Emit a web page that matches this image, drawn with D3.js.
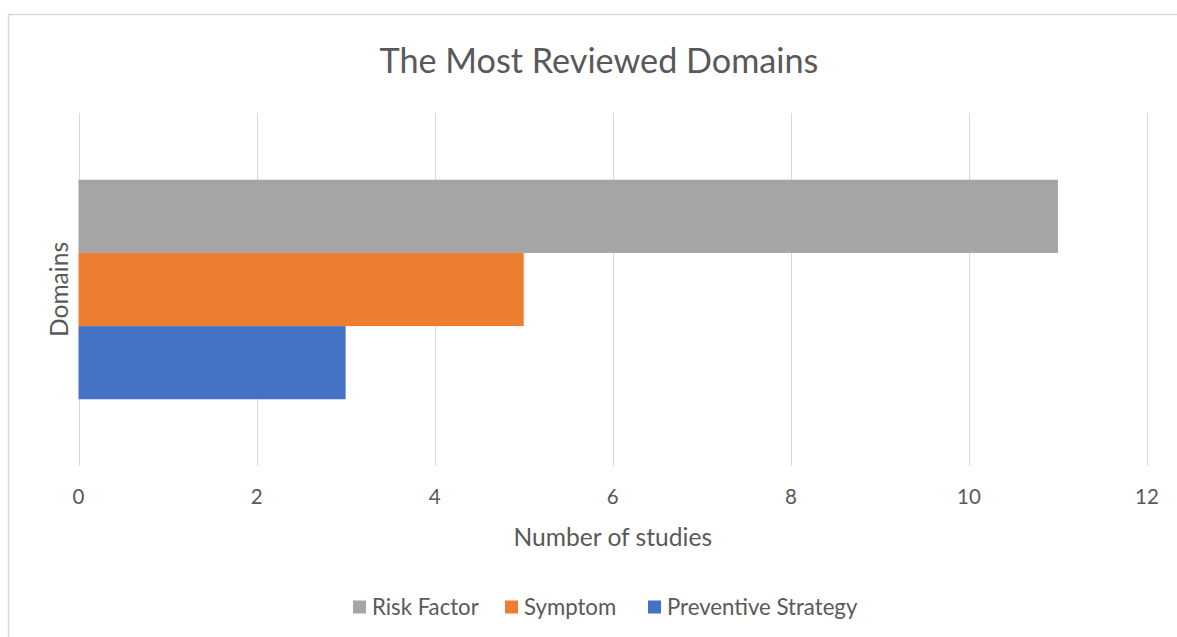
<!DOCTYPE html>
<meta charset="utf-8">

<style>
  body { margin: 0; background: #fff; }
  text { font-family: Lato, "Open Sans", sans-serif; fill: #595959; }
</style>

<svg class="chart"></svg>

<script src="https://d3js.org/d3.v7.min.js"></script>
<script>

  var seriesNames  = ["Risk Factor", "Symptom", "Preventive Strategy"];
  var seriesValues = [11, 5, 3];
  var seriesColors = ["#a5a5a5", "#ed7d31", "#4472c4"];
  var categories   = ["Domains"];
  var xTicks       = [0, 2, 4, 6, 8, 10, 12];

  var width  = 1177;
  var height = 637;

  var plot = { left: 78.5, right: 1147, top: 113, bottom: 466 };

  var chart = d3.select(".chart")
      .attr("width", width)
      .attr("height", height);

  // chart frame (runs off the picture on right and bottom)
  chart.append("rect")
      .attr("x", 8.5)
      .attr("y", 14.5)
      .attr("width", 1200)
      .attr("height", 700)
      .attr("fill", "#fff")
      .attr("stroke", "#d9d9d9")
      .attr("stroke-width", 1.5);

  var x = d3.scaleLinear()
      .domain([0, 12])
      .range([plot.left, plot.right]);

  var y0 = d3.scaleBand()
      .domain(categories)
      .range([plot.top, plot.bottom])
      .paddingOuter(0.304);

  var y1 = d3.scaleBand()
      .domain(seriesNames)
      .range([0, y0.bandwidth()]);

  // gridlines
  chart.append("g")
    .selectAll("line")
    .data(xTicks)
    .enter().append("line")
        .attr("x1", function(d) { return Math.round(x(d)) + 0.5; })
        .attr("x2", function(d) { return Math.round(x(d)) + 0.5; })
        .attr("y1", plot.top)
        .attr("y2", plot.bottom)
        .attr("stroke", "#d9d9d9")
        .attr("stroke-width", 1);

  // bars
  var rows = seriesNames.map(function(name, i) {
    return { name: name, value: seriesValues[i], color: seriesColors[i], cat: categories[0] };
  });

  chart.append("g")
    .selectAll("rect")
    .data(rows)
    .enter().append("rect")
        .attr("x", x(0))
        .attr("y", function(d) { return y0(d.cat) + y1(d.name); })
        .attr("width", function(d) { return x(d.value) - x(0); })
        .attr("height", y1.bandwidth())
        .attr("fill", function(d) { return d.color; });

  // x tick labels
  chart.append("g")
    .selectAll("text")
    .data(xTicks)
    .enter().append("text")
        .attr("x", function(d) { return x(d); })
        .attr("y", 497)
        .attr("dy", "0.35em")
        .attr("text-anchor", "middle")
        .style("font-size", "20.5px")
        .text(function(d) { return d; });

  // title
  chart.append("text")
      .attr("x", 599)
      .attr("y", 61)
      .attr("dy", "0.35em")
      .attr("text-anchor", "middle")
      .style("font-size", "34.2px")
      .text("The Most Reviewed Domains");

  // axis titles
  chart.append("text")
      .attr("x", (plot.left + plot.right) / 2)
      .attr("y", 537)
      .attr("dy", "0.35em")
      .attr("text-anchor", "middle")
      .style("font-size", "24.6px")
      .text("Number of studies");

  chart.append("text")
      .attr("transform", "translate(59," + ((plot.top + plot.bottom) / 2) + ") rotate(-90)")
      .attr("dy", "0.35em")
      .attr("text-anchor", "middle")
      .style("font-size", "24.6px")
      .text("Domains");

  // legend
  var legendX = [353, 505, 648];

  var legend = chart.append("g")
    .selectAll("g")
    .data(rows)
    .enter().append("g")
        .attr("transform", function(d, i) { return "translate(" + legendX[i] + ",607)"; });

  legend.append("rect")
      .attr("x", 0)
      .attr("y", -6.5)
      .attr("width", 13)
      .attr("height", 13)
      .attr("fill", function(d) { return d.color; });

  legend.append("text")
      .attr("x", 19)
      .attr("dy", "0.35em")
      .style("font-size", "22.2px")
      .text(function(d) { return d.name; });

</script>
